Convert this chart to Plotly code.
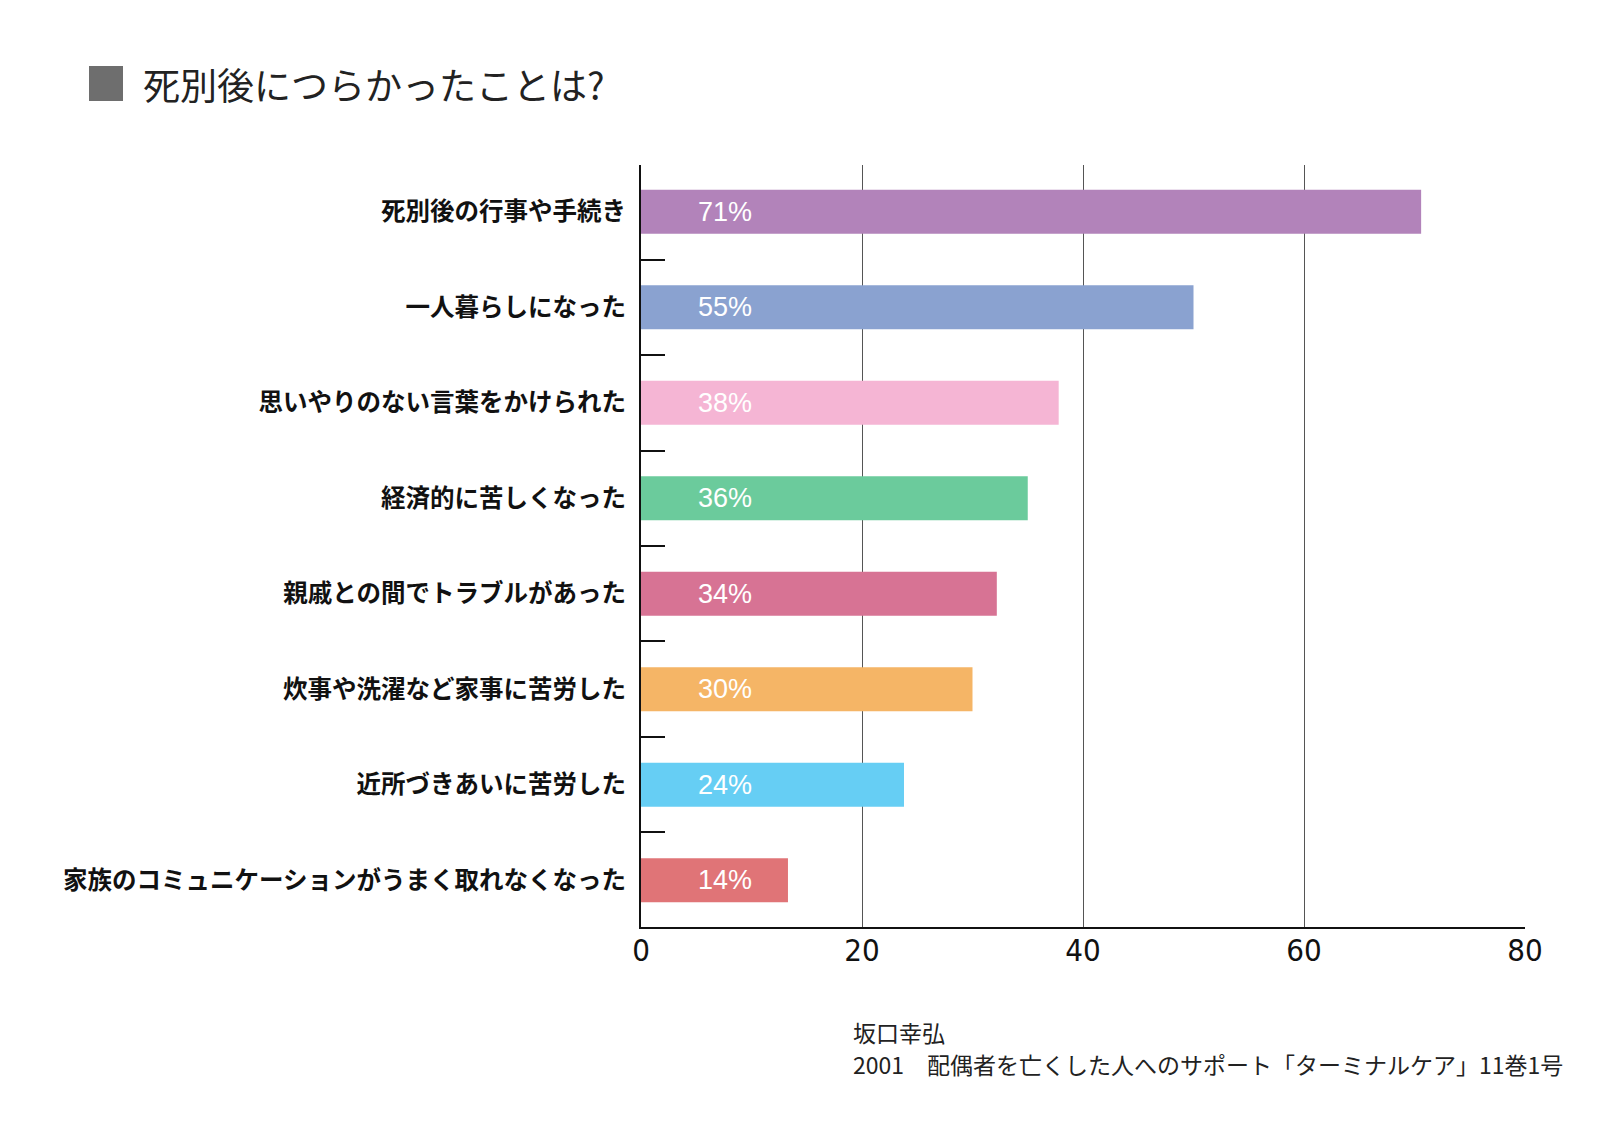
import plotly.graph_objects as go

# ---- data ----
categories = [
    "死別後の行事や手続き",
    "一人暮らしになった",
    "思いやりのない言葉をかけられた",
    "経済的に苦しくなった",
    "親戚との間でトラブルがあった",
    "炊事や洗濯など家事に苦労した",
    "近所づきあいに苦労した",
    "家族のコミュニケーションがうまく取れなくなった",
]
bar_values = [70.6, 50.0, 37.8, 35.0, 32.2, 30.0, 23.8, 13.3]
bar_labels = ["71%", "55%", "38%", "36%", "34%", "30%", "24%", "14%"]
bar_colors = ["#B283BA", "#8AA2D0", "#F5B5D4", "#6BCB9C",
              "#D77394", "#F5B566", "#66CEF4", "#E07477"]
x_ticks = [0, 20, 40, 60, 80]
title_text = "死別後につらかったことは?"
source_lines = ["坂口幸弘",
                "2001　配偶者を亡くした人へのサポート「ターミナルケア」11巻1号"]

# ---- layout geometry (pixels) ----
W, H = 1600, 1124
ML, MR, MT, MB = 641, 75, 165, 197
PW, PH = W - ML - MR, H - MT - MB


def px_x(px):
    return (px - ML) / PW


def px_y(py):
    return (H - MB - py) / PH


fig = go.Figure()
fig.add_trace(go.Bar(
    x=bar_values, y=categories, orientation="h",
    marker=dict(color=bar_colors, line=dict(width=0)),
    width=0.46, hoverinfo="skip",
))

for cat, lab in zip(categories, bar_labels):
    fig.add_annotation(x=5, y=cat, xref="x", yref="y", text=lab,
                       showarrow=False, xanchor="left", yanchor="middle",
                       font=dict(family="Liberation Sans, Arial", size=27,
                                 color="white"))

# title square marker
fig.add_shape(type="rect", xref="paper", yref="paper",
              x0=px_x(89), x1=px_x(123), y0=px_y(101), y1=px_y(66),
              fillcolor="#6E6E6E", line=dict(width=0))
fig.add_annotation(xref="paper", yref="paper", x=px_x(141), y=px_y(84),
                   text=title_text, showarrow=False, xanchor="left",
                   yanchor="middle",
                   font=dict(family="Noto Sans CJK JP", size=37,
                             color="#222222"))

for i, line in enumerate(source_lines):
    fig.add_annotation(xref="paper", yref="paper", x=px_x(851),
                       y=px_y(1032 + 32 * i), text=line, showarrow=False,
                       xanchor="left", yanchor="middle",
                       font=dict(family="Noto Sans CJK JP", size=23,
                                 color="#222222"))

fig.update_layout(
    width=W, height=H,
    margin=dict(l=ML, r=MR, t=MT, b=MB, pad=0),
    paper_bgcolor="white", plot_bgcolor="white",
    showlegend=False,
    xaxis=dict(range=[0, 80], tickvals=x_ticks, showgrid=True,
               gridcolor="#555555", gridwidth=1, zeroline=False,
               showline=True, linecolor="#111111", linewidth=2,
               ticks="", ticklabelstandoff=-5,
               tickfont=dict(family="Liberation Sans Narrow, DejaVu Sans Condensed, Liberation Sans",
                             size=31, color="#111111"),
               fixedrange=True),
    yaxis=dict(type="category", categoryorder="array",
               categoryarray=categories, range=[7.49, -0.49],
               showgrid=False, zeroline=False,
               showline=True, linecolor="#111111", linewidth=2,
               ticks="inside", ticklen=24, tickwidth=1.5,
               tickcolor="#111111", tickson="boundaries",
               ticklabelstandoff=8,
               tickfont=dict(family="Noto Sans CJK JP", size=24.5,
                             color="#111111", weight="bold"),
               fixedrange=True),
)

fig.write_html("out.html")
